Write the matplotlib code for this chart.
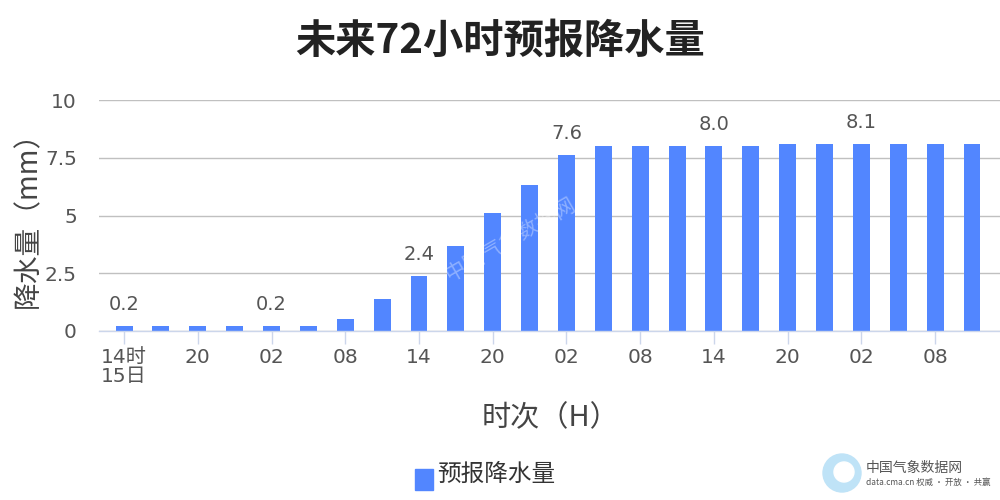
import matplotlib
matplotlib.use("Agg")
import matplotlib.pyplot as plt
from matplotlib.patches import Circle, Rectangle
import numpy as np

plt.rcParams['font.family'] = ['Noto Sans CJK SC', 'DejaVu Sans']
NUM_FONT = ['DejaVu Sans', 'Noto Sans CJK SC']

title = "未来72小时预报降水量"
series_name = "预报降水量"
values = [0.2, 0.2, 0.2, 0.2, 0.2, 0.2, 0.5, 1.4, 2.4, 3.7, 5.1, 6.3,
          7.6, 8.0, 8.0, 8.0, 8.0, 8.0, 8.1, 8.1, 8.1, 8.1, 8.1, 8.1]
tick_labels = ["14时\n15日", "20", "02", "08", "14", "20", "02", "08",
               "14", "20", "02", "08"]
label_every = 4
yticks = [0, 2.5, 5, 7.5, 10]
ytick_labels = ["0", "2.5", "5", "7.5", "10"]

bar_color = "#5286ff"
txt_color = "#555555"

fig = plt.figure(figsize=(10, 5), dpi=100)
ax = fig.add_axes([0.099, 0.338, 0.901, 0.462])

x = np.arange(len(values))
ax.bar(x, values, width=0.46, color=bar_color, zorder=3)

for i in range(0, len(values), label_every):
    ax.annotate(f"{values[i]:.1f}", (x[i], values[i]), xytext=(0, 15.5),
                textcoords="offset points", ha="center", va="center",
                fontsize=14, color=txt_color, zorder=4, family=NUM_FONT)

ax.set_ylim(0, 10)
ax.set_xlim(-0.68, 23.76)
ax.set_yticks(yticks)
ax.set_yticklabels(ytick_labels, fontsize=14.5, color=txt_color, family=NUM_FONT)
ax.set_xticks(x[::2])
ax.set_xticklabels(tick_labels, fontsize=14.5, color=txt_color, linespacing=1.05,
                   family=NUM_FONT)
ax.tick_params(axis='y', length=0, pad=16)
ax.tick_params(axis='x', length=9, width=1, color="#ccd6eb", pad=3)
ax.grid(axis='y', color="#c0c0c0", linewidth=1, zorder=0)
for s in ['top', 'right', 'left']:
    ax.spines[s].set_visible(False)
ax.spines['bottom'].set_color("#ccd6eb")
ax.spines['bottom'].set_linewidth(1)
ax.spines['bottom'].set_zorder(5)

fig.text(0.5, 0.918, title, ha="center", va="center", fontsize=29,
         fontweight="bold", color="#222222")
fig.text(0.028, 0.574, "降水量（mm）", rotation=90, ha="center", va="center",
         fontsize=20, color="#444444")
fig.text(0.55, 0.164, "时次（H）", ha="center", va="center",
         fontsize=21, color="#444444")

# legend
fig.patches.append(Rectangle((0.415, 0.021), 0.018, 0.042,
                   transform=fig.transFigure, color=bar_color))
fig.text(0.437, 0.052, series_name, ha="left", va="center", fontsize=17,
         color="#333333")

# watermark logo
fig.patches.append(Circle((8.42, 0.27), 0.19, transform=fig.dpi_scale_trans,
                          color="#bfe3f7", zorder=1))
fig.patches.append(Circle((8.44, 0.28), 0.1, transform=fig.dpi_scale_trans,
                          color="#ffffff", zorder=2))
fig.text(0.866, 0.064, "中国气象数据网", ha="left", va="center", fontsize=10,
         color="#555555")
fig.text(0.866, 0.036, "data.cma.cn 权威 · 开放 · 共赢", ha="left", va="center",
         fontsize=6, color="#555555")
fig.text(0.51, 0.52, "中国气象数据网", ha="center", va="center", fontsize=15,
         rotation=30, color="#ffffff", alpha=0.35, zorder=10)

fig.savefig("out.png", dpi=100)
